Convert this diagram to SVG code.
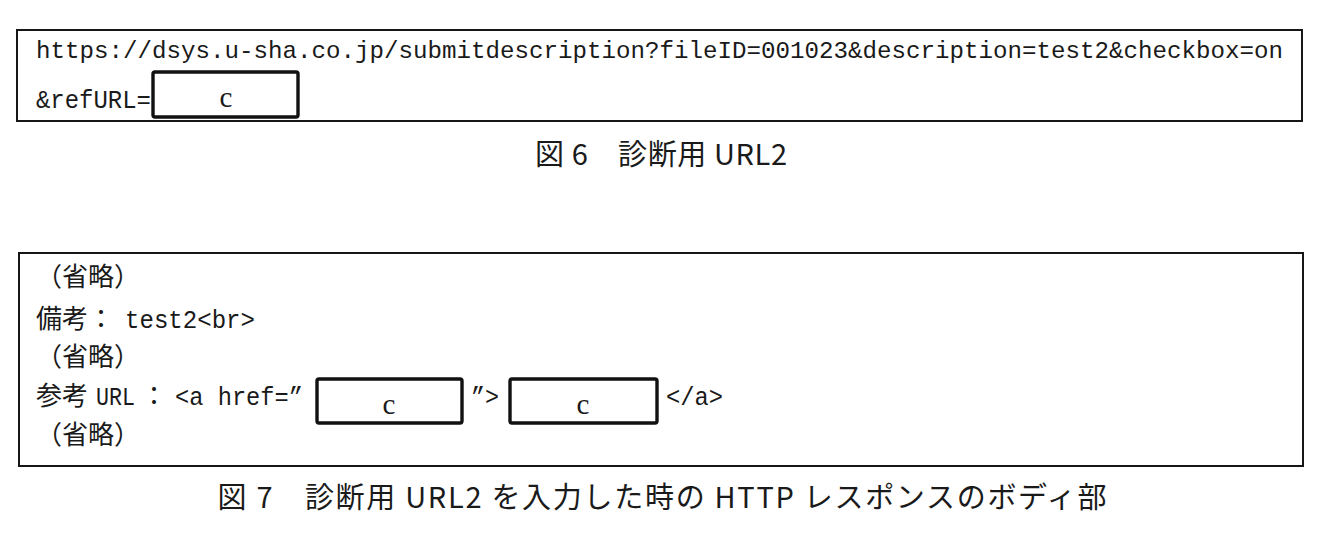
<svg xmlns="http://www.w3.org/2000/svg" width="1342" height="536" viewBox="0 0 1342 536">
<style>
.frame{fill:none;stroke:#161616;stroke-width:2}
.blank{fill:#fff;stroke:#111;stroke-width:3.4}
.mono{font-family:"Liberation Mono","DejaVu Sans Mono",monospace;font-size:25px;fill:#1a1a1a}
.url{font-size:24.2px}
.jp{font-family:"Noto Sans CJK JP","Noto Sans",sans-serif;font-size:26px;fill:#1a1a1a}
.cap{font-family:"Noto Sans CJK JP","Noto Sans",sans-serif;font-size:29px;fill:#1a1a1a}
.c{font-family:"Liberation Serif","Times New Roman",serif;font-size:29px;fill:#1a1a1a;text-anchor:middle}
</style>
<rect width="1342" height="536" fill="#fff"/>
<g id="figure6">
  <rect class="frame" x="17" y="30" width="1285" height="91"/>
  <text class="mono url" x="36" y="58" textLength="1247" lengthAdjust="spacingAndGlyphs">https://dsys.u-sha.co.jp/submitdescription?fileID=001023&amp;description=test2&amp;checkbox=on</text>
  <text class="mono" x="36" y="108" textLength="115" lengthAdjust="spacingAndGlyphs">&amp;refURL=</text>
  <g id="blank-c-1">
    <rect class="blank" x="153" y="72" width="145" height="45" rx="2"/>
    <text class="c" x="226" y="107">c</text>
  </g>
</g>
<g id="caption6">
  <text class="cap" x="661" y="165" text-anchor="middle" textLength="252" lengthAdjust="spacing">図 6　診断用 URL2</text>
</g>
<g id="figure7">
  <rect class="frame" x="19" y="253" width="1284" height="213"/>
  <text class="jp" x="36" y="286">（省略）</text>
  <text y="328"><tspan class="jp" x="36">備考：</tspan><tspan class="mono" x="125" textLength="130" lengthAdjust="spacingAndGlyphs">test2&lt;br&gt;</tspan></text>
  <text class="jp" x="36" y="366">（省略）</text>
  <text y="405"><tspan class="jp" x="36">参考</tspan><tspan class="mono" x="96" textLength="39" lengthAdjust="spacingAndGlyphs">URL</tspan><tspan class="jp" x="141">：</tspan><tspan class="mono" x="175" textLength="128" lengthAdjust="spacingAndGlyphs">&lt;a href=”</tspan><tspan class="mono" x="471" textLength="28" lengthAdjust="spacingAndGlyphs">”&gt;</tspan><tspan class="mono" x="666" textLength="57" lengthAdjust="spacingAndGlyphs">&lt;/a&gt;</tspan></text>
  <text class="jp" x="36" y="444">（省略）</text>
  <g id="blank-c-2">
    <rect class="blank" x="317" y="379" width="145" height="44" rx="2"/>
    <text class="c" x="389" y="414">c</text>
  </g>
  <g id="blank-c-3">
    <rect class="blank" x="510" y="379" width="147" height="44" rx="2"/>
    <text class="c" x="583" y="414">c</text>
  </g>
</g>
<g id="caption7">
  <text class="cap" x="662" y="508" text-anchor="middle" textLength="889" lengthAdjust="spacing">図 7　診断用 URL2 を入力した時の HTTP レスポンスのボディ部</text>
</g>
</svg>
